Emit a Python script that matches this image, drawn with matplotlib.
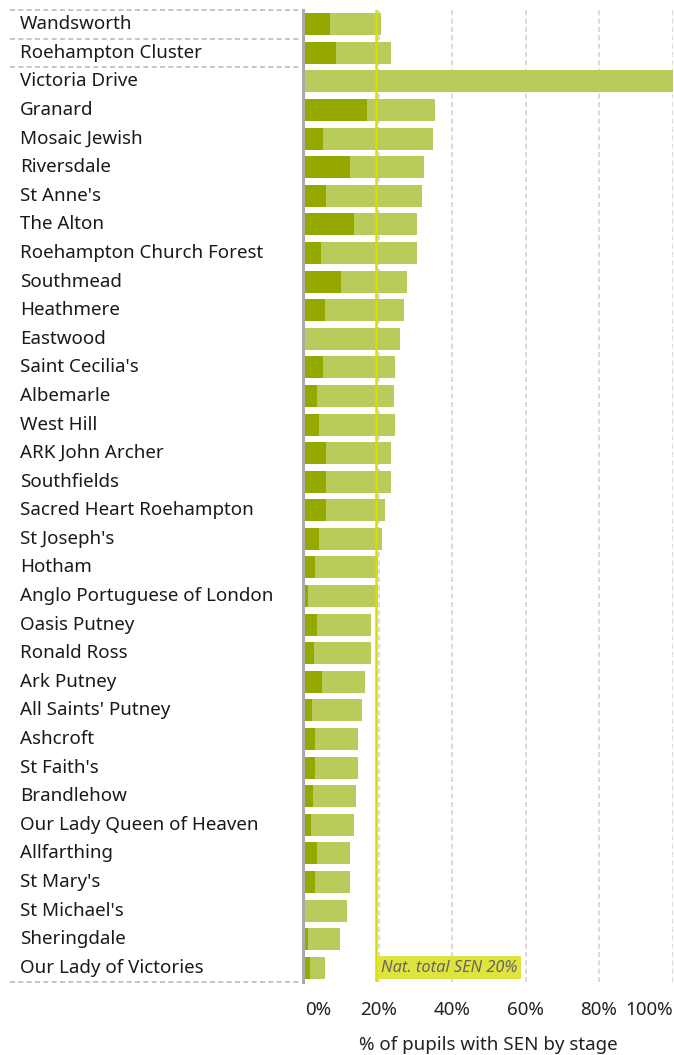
import matplotlib
matplotlib.use('Agg')
import matplotlib.pyplot as plt
import matplotlib.transforms as mtransforms
import numpy as np

# schools, top to bottom
schools = ["Wandsworth", "Roehampton Cluster", "Victoria Drive", "Granard", "Mosaic Jewish",
           "Riversdale", "St Anne's", "The Alton", "Roehampton Church Forest", "Southmead",
           "Heathmere", "Eastwood", "Saint Cecilia's", "Albemarle", "West Hill",
           "ARK John Archer", "Southfields", "Sacred Heart Roehampton", "St Joseph's", "Hotham",
           "Anglo Portuguese of London", "Oasis Putney", "Ronald Ross", "Ark Putney",
           "All Saints' Putney", "Ashcroft", "St Faith's", "Brandlehow",
           "Our Lady Queen of Heaven", "Allfarthing", "St Mary's", "St Michael's",
           "Sheringdale", "Our Lady of Victories"]

# % of pupils with EHC plan (dark) and total SEN (dark + light)
ehcp = [6.8, 8.4, 0.0, 16.8, 4.9, 12.2, 5.7, 13.3, 4.3, 9.8,
        5.4, 0.0, 4.9, 3.3, 3.8, 5.7, 5.7, 5.7, 3.8, 2.7,
        0.8, 3.3, 2.4, 4.6, 1.9, 2.7, 2.7, 2.2, 1.6, 3.3,
        2.7, 0.0, 0.8, 1.4]
total_sen = [20.8, 23.3, 101.0, 35.3, 34.8, 32.3, 31.8, 30.4, 30.4, 27.7,
             26.9, 25.8, 24.5, 24.2, 24.5, 23.4, 23.4, 21.7, 20.9, 19.8,
             19.8, 17.9, 17.9, 16.3, 15.5, 14.4, 14.4, 13.9, 13.3, 12.2,
             12.2, 11.4, 9.5, 5.4]
national_total = 19.4
xticks = [0, 20, 40, 60, 80, 100]

dark = '#94a800'
light = '#b8cb5b'
yellow = '#dadd00'

plt.rcParams['font.family'] = ['Noto Sans', 'DejaVu Sans']

W, H = 674, 1055
fig = plt.figure(figsize=(W / 100, H / 100), dpi=100)
ax = fig.add_axes([305 / W, 1 - 982 / H, (672.5 - 305) / W, 972 / H])

y = np.arange(len(schools))
ehcp = np.array(ehcp)
total_sen = np.array(total_sen)

ax.barh(y, ehcp, height=0.77, color=dark, zorder=2)
ax.barh(y, total_sen - ehcp, left=ehcp, height=0.77, color=light, zorder=2)

ax.set_xlim(0, 100)
ax.set_ylim(len(schools) - 0.5, -0.5)

# dashed gridlines behind bars
for v in xticks[1:]:
    ax.axvline(v, color='#d4d4d4', lw=1.2, ls=(0, (3, 2)), zorder=1)

# national total line
ax.axvline(national_total, color=yellow, lw=1.8, zorder=3)
ax.text(national_total + 1.2, len(schools) - 1, 'Nat. total SEN 20%', fontsize=11.8,
        style='italic', color='#666666', va='center', ha='left', zorder=4,
        bbox=dict(boxstyle='square,pad=0.22', fc='#dfe33e', ec='none'))

for s in ['top', 'right', 'bottom']:
    ax.spines[s].set_visible(False)
ax.spines['left'].set_color('#aaaaaa')
ax.spines['left'].set_linewidth(2.2)
ax.spines['left'].set_position(('outward', 1.2))

ax.set_yticks([])
ax.set_xticks(xticks)
ax.set_xticklabels([f'{v}%' for v in xticks], fontsize=13.5, color='#222222')
ax.tick_params(axis='x', length=0, pad=14)
labs = ax.get_xticklabels()
labs[0].set_ha('left')
labs[-1].set_ha('right')
ax.set_xlabel('% of pupils with SEN by stage', fontsize=13.5, color='#222222', labelpad=12)

# school names in the left column
trans = mtransforms.blended_transform_factory(fig.transFigure, ax.transData)
for i, name in enumerate(schools):
    ax.text(20 / W, i, name, transform=trans, fontsize=13.5, color='#1a1a1a',
            ha='left', va='center', clip_on=False)

# dashed separators in the label column
for yy in [-0.5, 0.5, 1.5, len(schools) - 0.5]:
    ax.plot([10 / W, 300 / W], [yy, yy], transform=trans, color='#bbbbbb',
            lw=1.2, ls=(0, (3, 2)), clip_on=False)

fig.savefig('out.png', dpi=100)
